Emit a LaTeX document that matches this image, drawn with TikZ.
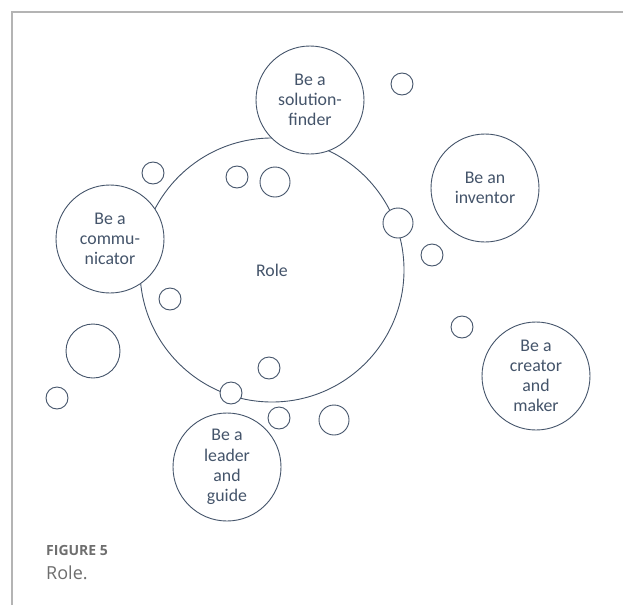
\documentclass[tikz,border=0pt]{standalone}
\usepackage{fontspec}
\setmainfont{Carlito}
\newfontfamily\capfont{Open Sans}
\definecolor{ink}{HTML}{44546A}
\definecolor{framegray}{HTML}{B4B4B4}
\definecolor{capgray}{HTML}{6E6E6E}
\begin{document}
\begin{tikzpicture}[x=1pt,y=-1pt,
  bub/.style={circle, draw=ink, fill=white, line width=0.9pt, inner sep=0pt, minimum size=#1},
  rolebub/.style={bub=108pt, text=ink, font=\fontsize{17.8}{20.2}\selectfont, align=center},
  captxt/.style={anchor=base west, inner sep=0pt, text=capgray}
]
\useasboundingbox (0,0) rectangle (623,605);
\coordinate (fbl) at (12,605);
\coordinate (ftl) at (12,12);
\coordinate (ftr) at (623,12);
\draw[framegray, line width=1.4pt] (fbl) -- (ftl) -- (ftr);

% central circle
\node[bub=264pt, text=ink, font=\fontsize{17.8}{20}\selectfont] (role) at (272,270) {Role};

% role circles
\node[rolebub] (solver) at (310,100) {Be a\\solution-\\finder};
\node[rolebub] (comm) at (110,239) {Be a\\commu-\\nicator};
\node[rolebub] (inventor) at (485,188) {Be an\\inventor};
\node[rolebub] (creator) at (536,376) {Be a\\creator\\and\\maker};
\node[rolebub] (leader) at (227,467) {Be a\\leader\\and\\guide};

% small bubbles
\node[bub=22pt] (b1) at (402,84) {};
\node[bub=22pt] (b2) at (153,173) {};
\node[bub=22pt] (b3) at (237,177) {};
\node[bub=30pt] (b4) at (275,182) {};
\node[bub=30pt] (b5) at (398,223) {};
\node[bub=22pt] (b6) at (432,255) {};
\node[bub=22pt] (b7) at (170,299) {};
\node[bub=22pt] (b8) at (462,327) {};
\node[bub=54pt] (b9) at (93,351) {};
\node[bub=22pt] (b10) at (269,368) {};
\node[bub=22pt] (b11) at (231,393) {};
\node[bub=22pt] (b12) at (57,398) {};
\node[bub=22pt] (b13) at (279,418) {};
\node[bub=30pt] (b14) at (334,420) {};

% caption
\node[captxt, font=\capfont\bfseries\fontsize{14}{16}\selectfont] (figlabel) at (46,555) {FIGURE 5};
\node[captxt, font=\capfont\fontsize{18}{20}\selectfont] (figcap) at (46,579) {Role.};
\end{tikzpicture}
\end{document}
